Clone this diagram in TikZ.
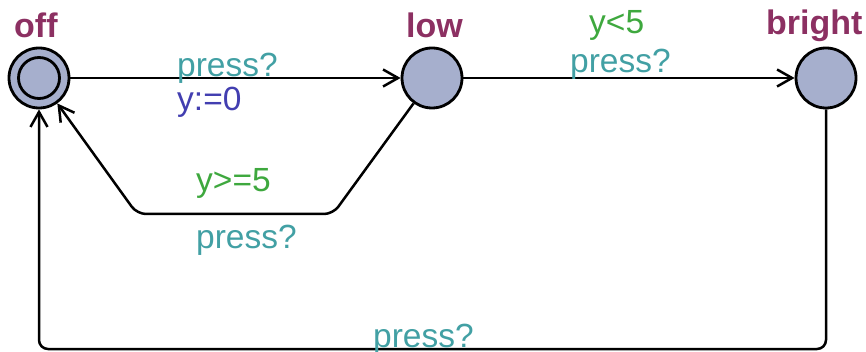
\documentclass[tikz,border=0pt]{standalone}
\usepackage{fontspec}
\setmainfont{Liberation Sans}
\usetikzlibrary{arrows.meta}
\definecolor{locname}{RGB}{140,48,98}
\definecolor{synccol}{RGB}{66,160,164}
\definecolor{guardcol}{RGB}{62,168,62}
\definecolor{assigncol}{RGB}{66,62,176}
\definecolor{locfill}{RGB}{166,175,205}
\begin{document}
\begin{tikzpicture}[x=1pt,y=-1pt,
  location/.style={circle,draw=black,line width=2.8pt,fill=locfill,minimum size=60pt,inner sep=0pt},
  locname/.style={text=locname,font=\fontsize{34}{38}\selectfont\bfseries,anchor=base west,inner sep=0pt},
  label/.style={font=\fontsize{33.5}{38}\selectfont,anchor=base west,inner sep=0pt},
  sync/.style={label,text=synccol},
  guard/.style={label,text=guardcol},
  assign/.style={label,text=assigncol},
  edge/.style={draw=black,line width=2.5pt,rounded corners=9pt,
    -{Straight Barb[length=15pt,width=17pt,line width=2.5pt]}}]
\useasboundingbox (0,0) rectangle (866,352);

% locations
\node[location] (off) at (39,78) {};
\draw[line width=2.8pt] (off.center) circle (20.5);
\node[location] (low) at (432,78) {};
\node[location] (bright) at (826,78) {};

% location names
\node[locname] (offname) at (14,38) {off};
\node[locname] (lowname) at (406,38) {low};
\node[locname] (brightname) at (766,35) {bright};

% routing points
\coordinate (lowdownA) at (333,214);
\coordinate (lowdownB) at (137,214);
\coordinate (brightdown) at (826,349);
\coordinate (offdown) at (39,349);

% edges
\draw[edge] (off) -- (low);
\draw[edge] (low) -- (bright);
\draw[edge] (low) -- (lowdownA) -- (lowdownB) -- (off);
\draw[edge] (bright) -- (brightdown) -- (offdown) -- (off);

% edge labels
\node[sync] (l1) at (177,77) {press?};
\node[assign] (l2) at (177,111) {y:=0};
\node[guard] (l3) at (589,34) {y<5};
\node[sync] (l4) at (570,73) {press?};
\node[guard] (l5) at (196,192) {y>=5};
\node[sync] (l6) at (196,249) {press?};
\node[sync] (l7) at (373,347) {press?};
\end{tikzpicture}
\end{document}
